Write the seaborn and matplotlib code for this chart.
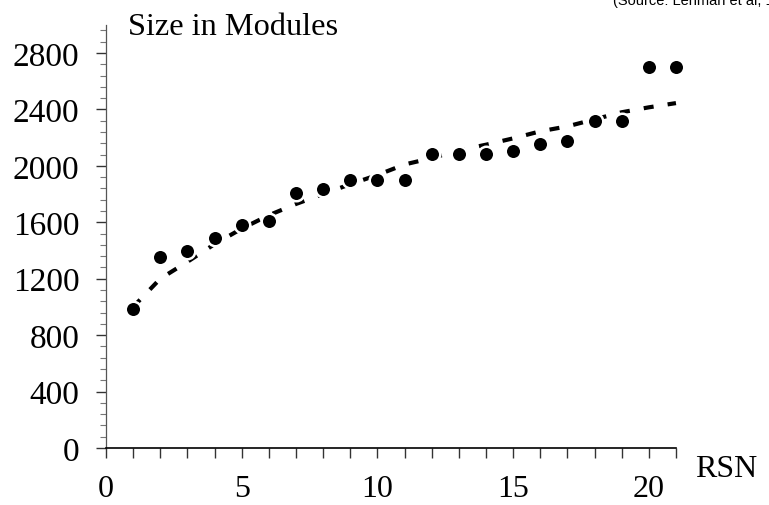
import numpy as np
import pandas as pd
import matplotlib
matplotlib.use('Agg')
import matplotlib.pyplot as plt
import seaborn as sns
from matplotlib.ticker import MultipleLocator

# release sequence numbers and observed system size (modules)
rsn = [1, 2, 3, 4, 5, 6, 7, 8, 9, 10, 11, 12, 13, 14, 15, 16, 17, 18, 19, 20, 21]
size_actual = [985, 1355, 1400, 1490, 1580, 1610, 1810, 1835, 1900, 1900, 1900,
               2085, 2085, 2085, 2105, 2155, 2175, 2315, 2320, 2700, 2700]
# model fit (dashed)
size_model = [1000, 1200, 1320, 1445, 1555, 1650, 1730, 1800, 1870, 1935, 2010,
              2055, 2110, 2150, 2195, 2245, 2280, 2330, 2380, 2415, 2445]

df = pd.DataFrame({'rsn': rsn, 'actual': size_actual, 'model': size_model})

sns.set_style('white')
plt.rcParams['font.family'] = ['Liberation Serif', 'DejaVu Serif']
plt.rcParams['text.color'] = 'black'

fig = plt.figure(figsize=(7.69, 5.06), dpi=100)
ax = fig.add_axes([0.1378, 0.1126, 0.879 - 0.1378, 0.949 - 0.1126])

sns.lineplot(data=df, x='rsn', y='model', ax=ax, color='black', lw=3.0,
             zorder=2, clip_on=False)
ax.lines[0].set_dashes((2.4, 3.4))
sns.scatterplot(data=df, x='rsn', y='actual', ax=ax, color='black', s=125,
                edgecolor='white', linewidth=1.8, zorder=3, clip_on=False)

ax.set_xlim(0, 21)
ax.set_ylim(0, 3000)
ax.set_xlabel('')
ax.set_ylabel('')

ax.xaxis.set_major_locator(MultipleLocator(5))
ax.xaxis.set_minor_locator(MultipleLocator(1))
ax.yaxis.set_minor_locator(MultipleLocator(80))
ax.set_yticks([0, 400, 800, 1200, 1600, 2000, 2400, 2800])

ax.tick_params(axis='x', which='both', direction='out', length=7, width=1,
               color='#333333', bottom=True, labelsize=23, pad=12,
               labelcolor='black')
ax.tick_params(axis='y', which='major', direction='out', length=7, width=1,
               color='#333333', left=True, labelsize=24, pad=12,
               labelcolor='black')
ax.tick_params(axis='y', which='minor', direction='out', length=4, width=0.8,
               color='#777777', left=True)

for s in ['top', 'right']:
    ax.spines[s].set_visible(False)
ax.spines['bottom'].set_color('black')
ax.spines['bottom'].set_linewidth(1.2)
ax.spines['left'].set_color('#555555')
ax.spines['left'].set_linewidth(0.9)

fig.text(128 / 769, 1 - 35 / 506, 'Size in Modules', fontsize=23.3,
         ha='left', va='baseline', color='black')
fig.text(695 / 769, 1 - 477 / 506, 'RSN', fontsize=23, ha='left',
         va='baseline', color='black')
fig.text(613 / 769, 1 - 5 / 506, '(Source: Lehman et al, 1997)',
         family=['Liberation Sans', 'DejaVu Sans'], fontsize=10.5,
         ha='left', va='baseline', color='black')

fig.savefig('out.png', dpi=100)
